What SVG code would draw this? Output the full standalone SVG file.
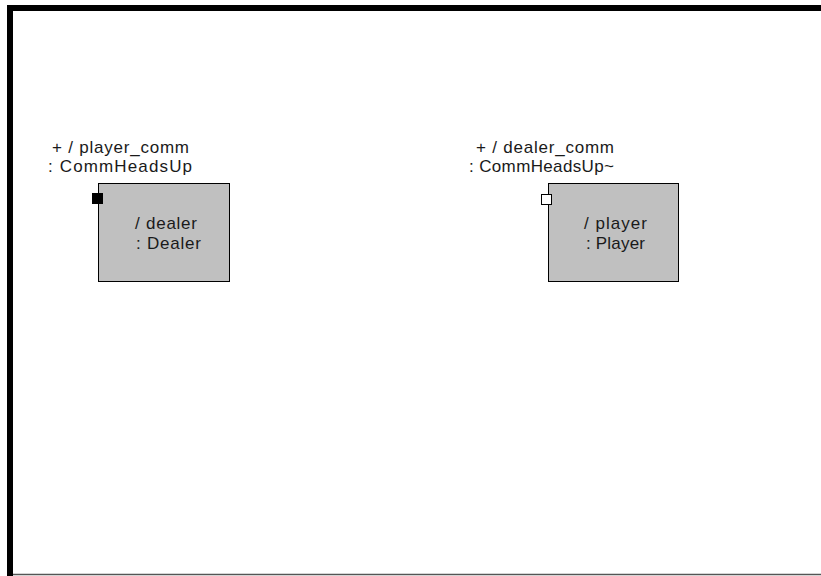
<svg xmlns="http://www.w3.org/2000/svg" width="821" height="576" viewBox="0 0 821 576">
<style>
.box{fill:#c0c0c0;stroke:#000;stroke-width:1}
.t{font-family:"Liberation Sans",Arial,sans-serif;font-size:17px;fill:#1a1a1a}
.portf{fill:#000;stroke:#000;stroke-width:1}
.porte{fill:#fff;stroke:#000;stroke-width:1}
</style>
<rect width="821" height="576" fill="#fff"/>
<g id="frame">
<path d="M10,576 V8 H821" fill="none" stroke="#000" stroke-width="6"/>
<line x1="13" y1="574.5" x2="821" y2="574.5" stroke="#555" stroke-width="1.5"/>
</g>
<g id="dealer">
<rect class="box" x="98.5" y="183.5" width="131" height="98"/>
<text class="t" x="135" y="229" textLength="62" lengthAdjust="spacing">/ dealer</text>
<text class="t" x="136" y="249" textLength="65" lengthAdjust="spacing">: Dealer</text>
</g>
<g id="player_comm">
<rect class="portf" x="92.5" y="193.5" width="10" height="10"/>
<text class="t" x="52" y="153" textLength="137" lengthAdjust="spacing">+ / player_comm</text>
<text class="t" x="48" y="172" textLength="144" lengthAdjust="spacing">: CommHeadsUp</text>
</g>
<g id="player">
<rect class="box" x="548.5" y="183.5" width="130" height="98"/>
<text class="t" x="584" y="229" textLength="63" lengthAdjust="spacing">/ player</text>
<text class="t" x="586" y="249" textLength="59" lengthAdjust="spacing">: Player</text>
</g>
<g id="dealer_comm">
<rect class="porte" x="541.5" y="194.5" width="10" height="10"/>
<text class="t" x="476" y="153" textLength="138" lengthAdjust="spacing">+ / dealer_comm</text>
<text class="t" x="469" y="172" textLength="145" lengthAdjust="spacing">: CommHeadsUp~</text>
</g>
<g id="connectors"></g>
</svg>
